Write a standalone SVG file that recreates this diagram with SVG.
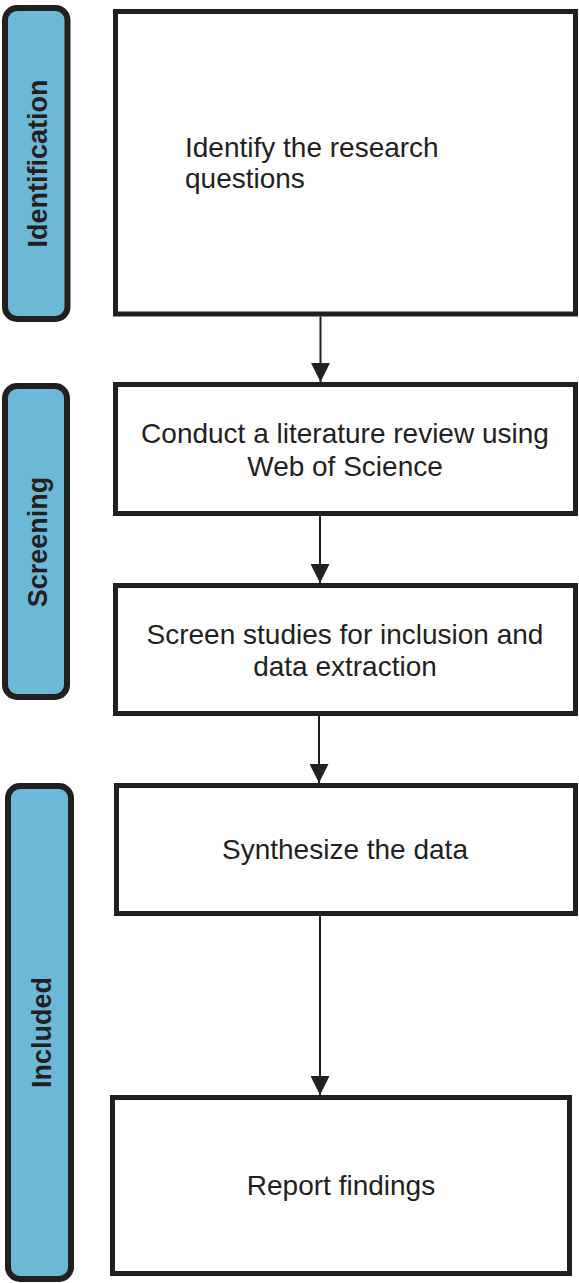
<svg xmlns="http://www.w3.org/2000/svg" width="579" height="1283" viewBox="0 0 579 1283">
<style>
.pill{fill:#6cb8d7;stroke:#231f20;stroke-width:6}
.box{fill:#ffffff;stroke:#231f20;stroke-width:5}
.lbl{font-family:"Liberation Sans",Arial,sans-serif;font-size:27px;font-weight:bold;fill:#231f20;text-anchor:middle}
.txt{font-family:"Liberation Sans",Arial,sans-serif;font-size:28px;fill:#231f20}
.c{text-anchor:middle}
.conn line{stroke:#231f20;stroke-width:2}
</style>
<defs>
<marker id="ah" markerUnits="userSpaceOnUse" markerWidth="20" markerHeight="19" refX="19" refY="9.5" orient="auto">
<path d="M0,0 L19,9.5 L0,19 Z" fill="#231f20"/>
</marker>
</defs>
<rect width="579" height="1283" fill="#ffffff"/>
<g id="stage-identification">
<rect class="pill" x="5" y="8" width="62.5" height="311" rx="12"/>
<text class="lbl" transform="translate(47,163.5) rotate(-90)">Identification</text>
</g>
<g id="stage-screening">
<rect class="pill" x="5" y="386" width="62" height="311" rx="12"/>
<text class="lbl" transform="translate(47,542) rotate(-90)">Screening</text>
</g>
<g id="stage-included">
<rect class="pill" x="8" y="786" width="63" height="493" rx="12"/>
<text class="lbl" transform="translate(51,1032.5) rotate(-90)">Included</text>
</g>
<g id="node-identify">
<rect class="box" x="115.5" y="11.5" width="460" height="302.5"/>
<text class="txt" x="185" y="157">Identify the research</text>
<text class="txt" x="185" y="188">questions</text>
</g>
<g id="node-review">
<rect class="box" x="115.5" y="384.5" width="460" height="129"/>
<text class="txt c" x="345" y="443">Conduct a literature review using</text>
<text class="txt c" x="345" y="476">Web of Science</text>
</g>
<g id="node-screen">
<rect class="box" x="115.5" y="585.5" width="460" height="128"/>
<text class="txt c" x="345" y="644">Screen studies for inclusion and</text>
<text class="txt c" x="345" y="676">data extraction</text>
</g>
<g id="node-synthesize">
<rect class="box" x="116.5" y="785.5" width="459" height="128"/>
<text class="txt c" x="345" y="859">Synthesize the data</text>
</g>
<g id="node-report">
<rect class="box" x="112.5" y="1097.5" width="457" height="176"/>
<text class="txt c" x="341" y="1195">Report findings</text>
</g>
<g id="connectors" class="conn">
<line x1="320.5" y1="316.5" x2="320.5" y2="382" marker-end="url(#ah)"/>
<line x1="320" y1="516" x2="320" y2="583" marker-end="url(#ah)"/>
<line x1="319" y1="716" x2="319" y2="783" marker-end="url(#ah)"/>
<line x1="320" y1="916" x2="320" y2="1095" marker-end="url(#ah)"/>
</g>
</svg>
